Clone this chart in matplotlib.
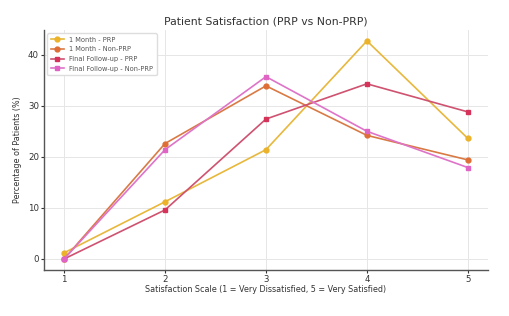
import matplotlib
matplotlib.use("Agg")
import matplotlib.pyplot as plt

scale = [1, 2, 3, 4, 5]
one_month_prp = [1.2, 11.2, 21.4, 42.7, 23.6]
one_month_non = [0.0, 22.6, 33.9, 24.2, 19.4]
final_prp = [0.0, 9.6, 27.4, 34.3, 28.8]
final_non = [0.0, 21.4, 35.7, 25.0, 17.9]
labels = ["1 Month - PRP", "1 Month - Non-PRP", "Final Follow-up - PRP", "Final Follow-up - Non-PRP"]

colors = ["#EBB22A", "#DE6E35", "#D6335A", "#E064C4"]
line_colors = ["#E8B83C", "#D97A45", "#CF5270", "#DE74C8"]
markers = ["o", "o", "s", "s"]

fig = plt.figure(figsize=(5.1, 3.16), dpi=100)
ax = fig.add_axes([0.086, 0.146, 0.871, 0.759])
for ys, lab, c, lc, m in zip([one_month_prp, one_month_non, final_prp, final_non], labels, colors, line_colors, markers):
    ax.plot(scale, ys, color=lc, marker=m, markersize=3.5, markerfacecolor=c, markeredgecolor=c,
            linewidth=1.2, label=lab)

ax.set_title("Patient Satisfaction (PRP vs Non-PRP)", fontsize=7.8, color="#333333", pad=4)
ax.set_xlabel("Satisfaction Scale (1 = Very Dissatisfied, 5 = Very Satisfied)", fontsize=5.8, color="#333333", labelpad=1)
ax.set_ylabel("Percentage of Patients (%)", fontsize=5.8, color="#333333", labelpad=4)
ax.set_xticks(scale)
ax.set_yticks([0, 10, 20, 30, 40])
ax.tick_params(labelsize=6.2, colors="#333333", length=2, pad=1.5)
ax.grid(True, color="#e6e6e6", linewidth=0.7)
for s in ["top", "right"]:
    ax.spines[s].set_visible(False)
for s in ["left", "bottom"]:
    ax.spines[s].set_color("#555555")
    ax.spines[s].set_linewidth(1.0)
leg = ax.legend(loc="upper left", fontsize=4.8, frameon=True, handlelength=2.0, borderpad=0.5,
                labelspacing=0.55, framealpha=1, edgecolor="#dddddd")
for t in leg.get_texts():
    t.set_color("#555555")
fig.savefig("out.png", dpi=100)
